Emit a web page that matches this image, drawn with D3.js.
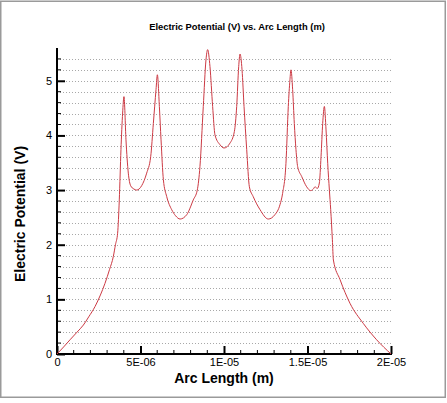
<!DOCTYPE html>
<html>
<head>
<meta charset="utf-8">
<script src="https://cdn.jsdelivr.net/npm/d3@7"></script>
<style>
  body { margin: 0; background: #fff; }
  text { font-family: Arial, "Liberation Sans", sans-serif; }
</style>
</head>
<body>
<svg width="447" height="403"></svg>
<script>
// arc length in micrometres
const arcLength = [
  0, 0.4, 0.78, 1.2, 1.58, 1.9, 2.28, 2.6, 2.87, 3.15, 3.37, 3.5, 3.63, 3.73, 3.83, 3.93, 4.01,
  4.13, 4.27, 4.41, 4.6, 4.77, 5.07, 5.37, 5.61, 5.77, 5.93, 6.01, 6.13, 6.23, 6.37,
  6.57, 6.87, 7.1, 7.37, 7.77, 8.16, 8.40, 8.56, 8.76, 8.92, 9.02, 9.16, 9.32, 9.46,
  9.76, 10.0, 10.36, 10.62, 10.76, 10.88, 10.96, 11.08, 11.20, 11.36, 11.52, 11.75,
  12.16, 12.65, 13.05, 13.35, 13.51, 13.71, 13.85, 13.95, 14.01, 14.11, 14.21, 14.31,
  14.41, 14.65, 14.95, 15.19, 15.35, 15.45, 15.59, 15.71, 15.81, 15.91, 16.01, 16.11,
  16.21, 16.31, 16.39, 16.49, 16.55, 16.95, 17.54, 18.34, 19.14, 20
];
const potential = [
  0, 0.13, 0.26, 0.4, 0.53, 0.68, 0.87, 1.08, 1.29, 1.55, 1.78, 2.0, 2.21, 2.82, 3.74, 4.41, 4.71,
  3.92, 3.31, 3.08, 3.02, 3.0, 3.08, 3.31, 3.61, 4.22, 4.84, 5.11, 4.53, 3.92, 3.19,
  2.88, 2.64, 2.53, 2.47, 2.55, 2.82, 3.0, 3.43, 4.53, 5.38, 5.57, 5.26, 4.53, 4.01,
  3.83, 3.77, 3.86, 4.07, 4.53, 5.26, 5.49, 5.20, 4.53, 3.74, 3.06, 2.88,
  2.64, 2.47, 2.55, 2.73, 2.94, 3.49, 4.53, 5.02, 5.20, 4.84, 4.22, 3.74,
  3.43, 3.25, 3.06, 2.99, 3.02, 3.06, 3.03, 3.13, 3.61, 4.22, 4.53, 4.10,
  3.49, 3.0, 2.64, 2.09, 1.72, 1.36, 0.93, 0.56, 0.26, 0
];
const xTickLabels = ['0', '5E-06', '1E-05', '1.5E-05', '2E-05'];
const yTickLabels = ['0', '1', '2', '3', '4', '5'];

const data = arcLength.map((a, i) => ({x: a * 1e-6, y: potential[i]}));

const svg = d3.select('svg');
const margin = {top: 48, right: 56, bottom: 49, left: 57};
const W = 447, H = 403;

// outer frame
svg.append('rect')
  .attr('x', 0.75).attr('y', 1.25)
  .attr('width', 444.5).attr('height', 396)
  .attr('fill', 'none')
  .attr('stroke', '#9a9a9a')
  .attr('stroke-width', 1.5);

const x = d3.scaleLinear().domain([0, 2e-5]).range([margin.left, W - margin.right]);
const y = d3.scaleLinear().domain([0, 5.6]).range([H - margin.bottom, margin.top]);

// dotted grid every 0.2
const gridVals = d3.range(1, 28).map(i => i * 0.2);
svg.append('g').selectAll('line').data(gridVals)
  .enter().append('line')
  .attr('x1', x(0)).attr('x2', x(2e-5))
  .attr('y1', d => Math.round(y(d)) + 0.5).attr('y2', d => Math.round(y(d)) + 0.5)
  .attr('stroke', '#a8a8a8')
  .attr('stroke-width', 1)
  .attr('stroke-dasharray', '1,2');

// minor ticks
const xMinor = d3.range(0, 21).map(i => i * 1e-6).filter((d, i) => i % 5 !== 0);
svg.append('g').selectAll('line').data(xMinor)
  .enter().append('line')
  .attr('x1', d => x(d)).attr('x2', d => x(d))
  .attr('y1', y(0)).attr('y2', y(0) - 4)
  .attr('stroke', '#000').attr('stroke-width', 1);

const yMinor = d3.range(0, 28).map(i => i * 0.2).filter((d, i) => i % 5 !== 0);
svg.append('g').selectAll('line').data(yMinor)
  .enter().append('line')
  .attr('x1', x(0)).attr('x2', x(0) + 4)
  .attr('y1', d => y(d)).attr('y2', d => y(d))
  .attr('stroke', '#000').attr('stroke-width', 1);

// major ticks + labels
const xAxis = d3.axisBottom(x)
  .tickValues(xTickLabels.map(Number))
  .tickFormat((d, i) => xTickLabels[i])
  .tickSizeInner(-8).tickSizeOuter(0).tickPadding(4);
const gx = svg.append('g').attr('transform', `translate(0,${y(0)})`).call(xAxis);
gx.select('.domain').remove();
gx.selectAll('line').attr('stroke-width', 2);
gx.selectAll('text').attr('font-size', 11).attr('fill', '#000')
  .attr('font-family', 'Arial, "Liberation Sans", sans-serif');

const yAxis = d3.axisLeft(y)
  .tickValues(yTickLabels.map(Number))
  .tickFormat((d, i) => yTickLabels[i])
  .tickSizeInner(-8).tickSizeOuter(0).tickPadding(5);
const gy = svg.append('g').attr('transform', `translate(${x(0)},0)`).call(yAxis);
gy.select('.domain').remove();
gy.selectAll('line').attr('stroke-width', 2);
gy.selectAll('text').attr('font-size', 11).attr('fill', '#000')
  .attr('font-family', 'Arial, "Liberation Sans", sans-serif');

// axis lines
svg.append('line')
  .attr('x1', x(0) - 1).attr('x2', x(2e-5) + 1)
  .attr('y1', y(0)).attr('y2', y(0))
  .attr('stroke', '#000').attr('stroke-width', 2);
svg.append('line')
  .attr('x1', x(0)).attr('x2', x(0))
  .attr('y1', y(0) + 1).attr('y2', y(5.6))
  .attr('stroke', '#000').attr('stroke-width', 2);

// curve
const line = d3.line()
  .x(d => x(d.x))
  .y(d => y(d.y))
  .curve(d3.curveMonotoneX);

svg.append('path')
  .datum(data)
  .attr('d', line)
  .attr('fill', 'none')
  .attr('stroke', '#cc3a44')
  .attr('stroke-width', 1);

// titles
svg.append('text')
  .attr('x', 237).attr('y', 30)
  .attr('text-anchor', 'middle')
  .attr('font-size', 9.4).attr('font-weight', 'bold')
  .text('Electric Potential (V) vs. Arc Length (m)');

svg.append('text')
  .attr('x', (x(0) + x(2e-5)) / 2).attr('y', 383)
  .attr('text-anchor', 'middle')
  .attr('font-size', 14).attr('font-weight', 'bold')
  .text('Arc Length (m)');

svg.append('text')
  .attr('transform', 'translate(25,214) rotate(-90)')
  .attr('text-anchor', 'middle')
  .attr('font-size', 14).attr('font-weight', 'bold')
  .text('Electric Potential (V)');
</script>
</body>
</html>
